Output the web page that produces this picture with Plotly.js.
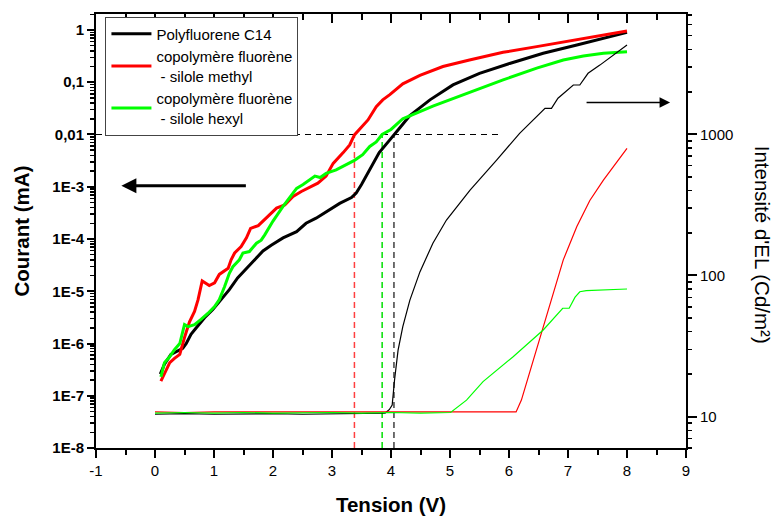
<!DOCTYPE html>
<html><head><meta charset="utf-8">
<script src="https://cdn.plot.ly/plotly-3.0.1.min.js"></script>
<style>html,body{margin:0;padding:0;background:#fff}</style>
</head><body><div id="chart" style="width:774px;height:516px"></div>
<script>
// ---- Data ----
const seriesNames = ["Polyfluorene C14", "copolymère fluorène<br> - silole methyl", "copolymère fluorène<br> - silole hexyl"];

// Current (mA) vs tension (V)  -- left axis
const pfV = [0.09,0.16,0.27,0.36,0.47,0.53,0.61,0.70,0.84,0.98,1.12,1.26,1.40,1.55,1.69,1.83,1.97,2.17,2.40,2.56,2.73,2.96,3.13,3.33,3.41,3.50,3.61,3.69,3.80,3.98,4.05,4.15,4.32,4.66,5.05,5.50,6.01,6.58,7.15,7.60,8.00];
const pfI = [2.6e-7,4.0e-7,6.2e-7,7.1e-7,8.1e-7,1.0e-6,1.5e-6,2.0e-6,3.1e-6,4.5e-6,6.9e-6,1.07e-5,1.8e-5,2.75e-5,4.0e-5,5.9e-5,7.6e-5,1.05e-4,1.38e-4,2.0e-4,2.5e-4,3.6e-4,4.8e-4,6.2e-4,7.6e-4,1.1e-3,1.8e-3,2.75e-3,4.5e-3,7.9e-3,1.0e-2,1.35e-2,2.3e-2,4.6e-2,8.9e-2,0.148,0.229,0.358,0.516,0.69,0.90];

const meV = [0.10,0.19,0.25,0.33,0.42,0.50,0.585,0.67,0.73,0.80,0.92,1.01,1.09,1.24,1.29,1.35,1.46,1.55,1.62,1.75,1.91,2.06,2.20,2.34,2.48,2.65,2.76,2.90,3.02,3.19,3.30,3.38,3.50,3.61,3.75,3.86,3.98,4.20,4.49,4.88,5.33,5.90,6.47,7.03,7.60,8.00];
const meI = [1.9e-7,3.2e-7,4.3e-7,5.2e-7,6.2e-7,1.3e-6,2.6e-6,4.1e-6,6.9e-6,1.58e-5,1.29e-5,1.45e-5,2.1e-5,2.75e-5,4.0e-5,5.4e-5,7.2e-5,1.05e-4,1.6e-4,1.8e-4,2.7e-4,3.9e-4,4.5e-4,6.5e-4,8.1e-4,1.0e-3,1.17e-3,1.6e-3,2.8e-3,4.5e-3,6.3e-3,9.8e-3,1.4e-2,1.9e-2,3.4e-2,4.6e-2,5.8e-2,9.3e-2,0.135,0.20,0.267,0.374,0.48,0.625,0.80,0.96];

const hxV = [0.10,0.16,0.25,0.33,0.42,0.50,0.56,0.67,0.78,0.90,1.01,1.09,1.18,1.26,1.32,1.43,1.49,1.60,1.72,1.80,1.86,2.00,2.17,2.40,2.51,2.71,2.80,2.90,3.07,3.24,3.38,3.52,3.64,3.75,3.85,4.00,4.20,4.71,5.30,5.90,6.47,6.92,7.26,7.60,8.00];
const hxI = [2.3e-7,4.3e-7,5.6e-7,7.6e-7,1.0e-6,2.3e-6,2.1e-6,2.3e-6,2.9e-6,3.8e-6,5.1e-6,6.9e-6,1.23e-5,2.2e-5,2.95e-5,4.0e-5,5.4e-5,5.75e-5,8.3e-5,9.5e-5,1.2e-4,2.2e-4,4.2e-4,9.3e-4,1.1e-3,1.6e-3,1.5e-3,1.8e-3,2.1e-3,2.6e-3,3.2e-3,4.1e-3,5.9e-3,7.2e-3,1.0e-2,1.25e-2,2.0e-2,3.5e-2,6.3e-2,0.111,0.186,0.267,0.318,0.358,0.385];

// EL intensity (Cd/m²) vs tension (V) -- right axis
const pfElV = [0,0.5,1.0,1.5,2.0,2.5,3.0,3.5,3.9,3.97,4.02,4.06,4.12,4.20,4.32,4.49,4.71,4.94,5.34,5.79,6.18,6.61,6.72,6.83,7.09,7.20,7.34,7.54,8.00];
const pfEl  = [10.4,10.5,10.4,10.5,10.5,10.4,10.5,10.5,10.6,11.2,12.1,18.2,29.6,43.4,66.9,106,169,247,403,657,1016,1528,1528,1800,2234,2234,2704,3090,4285];

const meElV = [0,0.5,1.0,1.5,2.0,2.5,3.0,3.5,4.0,4.5,5.0,5.5,6.12,6.21,6.41,6.58,6.75,6.92,7.15,7.37,7.60,8.00];
const meEl  = [10.8,10.7,10.8,10.8,10.7,10.8,10.7,10.8,10.8,10.7,10.8,10.7,10.8,13.1,25.2,43.4,74.8,129,222,340,473,795];

const hxElV = [0,0.5,1.0,1.5,2.0,2.5,3.0,3.5,4.0,4.5,5.01,5.28,5.56,6.07,6.58,6.91,7.02,7.12,7.20,7.31,8.00];
const hxEl  = [10.6,10.7,10.6,10.7,10.6,10.7,10.7,10.6,10.7,10.6,10.7,13.1,17.7,26.6,41.1,58.6,58.6,70.2,76.7,78,80.2];

// Threshold guides (V at 0.01 mA)
const thresholdV = [3.38, 3.85, 4.05];
const thresholdI = 0.01;
const guideEndV = 5.82;

// Tick labels
const xTickVals = [-1,0,1,2,3,4,5,6,7,8,9];
const xTickText = ["-1","0","1","2","3","4","5","6","7","8","9"];
const leftTickVals = [1e-8,1e-7,1e-6,1e-5,1e-4,1e-3,1e-2,1e-1,1];
const leftTickText = ["1E-8","1E-7","1E-6","1E-5","1E-4","1E-3","0,01","0,1","1"];
const rightTickVals = [10,100,1000];
const rightTickText = ["10","100","1000"];

// ---- Styling / layout ----
const colors = ["#000000", "#ff0000", "#00ff00"];
const guideColors = ["#ff4040", "#00e000", "#404040"];
const FONT = "Liberation Sans, Arial, Helvetica, sans-serif";

function logMinor(lo, hi){ const out=[]; for(let e=lo;e<=hi;e++){ for(let m=2;m<=9;m++){ out.push(m*Math.pow(10,e)); } } return out; }

const traces = [];
traces.push({x:[-1, guideEndV], y:[thresholdI, thresholdI], mode:'lines', line:{color:'#000', width:1.2, dash:'6px,5px'}, showlegend:false, hoverinfo:'skip', xaxis:'x', yaxis:'y'});
thresholdV.forEach((v,i)=>{
  traces.push({x:[v,v], y:[1e-8, thresholdI], mode:'lines', line:{color:guideColors[i], width:1.5, dash:'6px,4px'}, showlegend:false, hoverinfo:'skip', xaxis:'x', yaxis:'y'});
});
[[pfElV,pfEl],[meElV,meEl],[hxElV,hxEl]].forEach((d,i)=>{
  traces.push({x:d[0], y:d[1], mode:'lines', line:{color:colors[i], width:1.2}, showlegend:false, xaxis:'x', yaxis:'y2'});
});
[[pfV,pfI],[meV,meI],[hxV,hxI]].forEach((d,i)=>{
  traces.push({x:d[0], y:d[1], mode:'lines', name:seriesNames[i], line:{color:colors[i], width:3}, xaxis:'x', yaxis:'y'});
});
traces.push({x:[], y:[], xaxis:'x2', yaxis:'y', showlegend:false, hoverinfo:'skip'});

const layout = {
  width:774, height:516,
  margin:{l:96, r:88, t:14, b:68},
  paper_bgcolor:'#fff', plot_bgcolor:'#fff',
  font:{family:FONT, color:'#000'},
  showlegend:true,
  legend:{x:0.016, y:0.994, xanchor:'left', yanchor:'top', bordercolor:'#444', borderwidth:1, bgcolor:'#fff',
          font:{family:FONT, size:15, color:'#000'}, tracegroupgap:0, itemwidth:40},
  xaxis:{
    range:[-1,9], tickmode:'array', tickvals:xTickVals, ticktext:xTickText, ticks:'outside', ticklen:8, tickwidth:2, tickcolor:'#000',
    showline:true, linewidth:2, linecolor:'#000', showgrid:false, zeroline:false,
    minor:{dtick:0.5, tick0:0, ticks:'outside', ticklen:5, tickwidth:2, tickcolor:'#000', showgrid:false},
    tickfont:{family:FONT, size:15}, automargin:false,
    title:{text:'Tension (V)', font:{family:FONT, size:20.5, weight:'bold'}, standoff:22}
  },
  xaxis2:{
    overlaying:'x', side:'top', anchor:'y', range:[-1,9], dtick:1, tick0:0, ticks:'inside', ticklen:9, tickwidth:2, tickcolor:'#000',
    showline:true, linewidth:2, linecolor:'#000', showgrid:false, zeroline:false, showticklabels:false,
    minor:{dtick:0.5, ticks:'inside', ticklen:6, tickwidth:2, tickcolor:'#000', showgrid:false}
  },
  yaxis:{
    type:'log', range:[-8, 0.306], tickmode:'array', tickvals:leftTickVals, ticktext:leftTickText,
    ticks:'outside', ticklen:7, tickwidth:2, tickcolor:'#000',
    minor:{tickmode:'array', tickvals:logMinor(-8,0), ticks:'outside', ticklen:4, tickwidth:1.5, tickcolor:'#000', showgrid:false},
    showline:true, linewidth:2, linecolor:'#000', showgrid:false, zeroline:false,
    tickfont:{family:FONT, size:15, weight:'bold'}, automargin:false,
    title:{text:'Courant (mA)', font:{family:FONT, size:20.5, weight:'bold'}, standoff:17}
  },
  yaxis2:{
    type:'log', overlaying:'y', side:'right', anchor:'x', range:[0.778, 3.852],
    tickmode:'array', tickvals:rightTickVals, ticktext:rightTickText,
    ticks:'outside', ticklen:9, tickwidth:2, tickcolor:'#000',
    minor:{tickmode:'array', tickvals:logMinor(0,3), ticks:'outside', ticklen:4, tickwidth:1.5, tickcolor:'#000', showgrid:false},
    showline:true, linewidth:2, linecolor:'#000', showgrid:false, zeroline:false,
    tickfont:{family:FONT, size:15}, automargin:false
  },
  annotations:[
    {xref:'paper', yref:'paper', x:1.129, y:0.468, xanchor:'center', yanchor:'middle', textangle:90, showarrow:false,
     text:"Intensité d'EL (Cd/m²)", font:{family:FONT, size:20.5, color:'#000'}},
    {xref:'x', yref:'y', x:-0.57, y:-2.98, ax:126, ay:0, text:'', showarrow:true, arrowhead:2, arrowsize:1, arrowwidth:3, arrowcolor:'#000'},
    {xref:'x', yref:'y', x:8.73, y:-1.39, ax:-85, ay:0, text:'', showarrow:true, arrowhead:2, arrowsize:1.4, arrowwidth:1.5, arrowcolor:'#000'}
  ]
};

Plotly.newPlot('chart', traces, layout, {displayModeBar:false, staticPlot:true});
</script>
</body></html>
